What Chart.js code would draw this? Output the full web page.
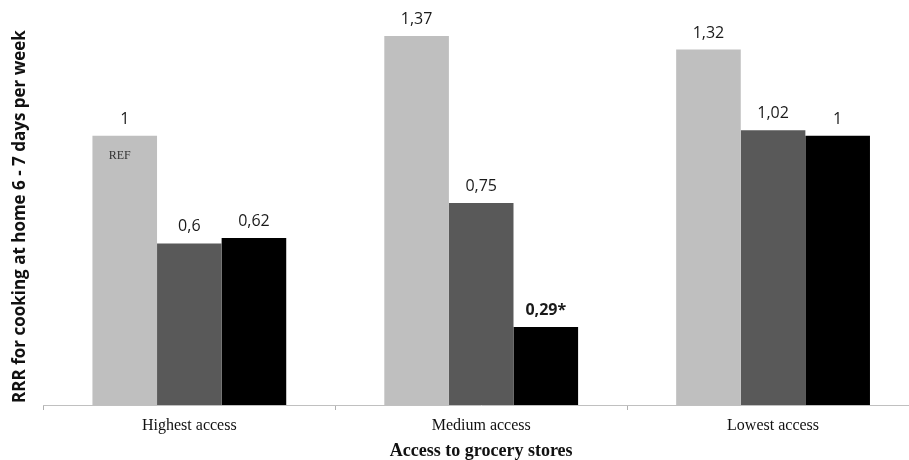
<!DOCTYPE html>
<html>
<head>
<meta charset="utf-8">
<script src="https://cdn.jsdelivr.net/npm/chart.js@4/dist/chart.umd.min.js"></script>
<style>
  html, body { margin: 0; padding: 0; background: #fff; overflow: hidden; }
  #wrap { width: 920px; height: 460px; position: relative; }
</style>
</head>
<body>
<div id="wrap"><canvas id="rrrChart"></canvas></div>
<script>
// categories and values
const categories = ['Highest access', 'Medium access', 'Lowest access'];
const seriesLight = [1, 1.37, 1.32];
const seriesDark = [0.6, 0.75, 1.02];
const seriesBlack = [0.62, 0.29, 1];
// significance markers (bold + asterisk)
const sigLight = [false, false, false];
const sigDark = [false, false, false];
const sigBlack = [false, true, false];
const refNote = 'REF';

const COLORS = ['#bfbfbf', '#595959', '#000000'];

function fmt(v) {
    return String(v).replace('.', ',');
}

// value labels above bars, REF note inside the reference bar
const barLabels = {
    id: 'barLabels',
    afterDatasetsDraw(chart) {
        const ctx = chart.ctx;
        ctx.save();
        ctx.textAlign = 'center';
        ctx.textBaseline = 'alphabetic';
        chart.data.datasets.forEach((ds, di) => {
            const meta = chart.getDatasetMeta(di);
            meta.data.forEach((bar, i) => {
                const sig = ds.sig[i];
                ctx.fillStyle = '#1a1a1a';
                ctx.font = (sig ? 'bold ' : '') + '16px "Open Sans"';
                ctx.fillText(fmt(ds.data[i]) + (sig ? '*' : ''), bar.x, bar.y - 12);
            });
        });
        const ref = chart.getDatasetMeta(0).data[0];
        ctx.font = '12px "Liberation Serif"';
        ctx.fillStyle = '#333';
        ctx.fillText(refNote, ref.x - 5, ref.y + 23);
        ctx.restore();
    }
};

const ctx = document.getElementById('rrrChart').getContext('2d');
new Chart(ctx, {
    type: 'bar',
    data: {
        labels: categories,
        datasets: [
            { label: 'Series 1', data: seriesLight, sig: sigLight, backgroundColor: COLORS[0] },
            { label: 'Series 2', data: seriesDark, sig: sigDark, backgroundColor: COLORS[1] },
            { label: 'Series 3', data: seriesBlack, sig: sigBlack, backgroundColor: COLORS[2] }
        ]
    },
    options: {
        responsive: true,
        maintainAspectRatio: false,
        animation: false,
        layout: { padding: { left: 4, top: 28, right: 1, bottom: 0 } },
        datasets: {
            bar: { barPercentage: 1, categoryPercentage: 0.664, borderWidth: 0 }
        },
        scales: {
            x: {
                grid: {
                    display: true,
                    drawOnChartArea: false,
                    drawTicks: true,
                    tickLength: 5,
                    color: '#b0b0b0'
                },
                border: { display: true, color: '#c0c0c0', width: 1 },
                ticks: {
                    padding: 8,
                    color: '#111',
                    font: { family: '"Liberation Serif"', size: 16, lineHeight: 1.0 }
                },
                title: {
                    display: true,
                    text: 'Access to grocery stores',
                    color: '#111',
                    padding: { top: 0, bottom: 0 },
                    font: { family: '"Liberation Serif"', size: 18, weight: 'bold', lineHeight: 1.0 }
                }
            },
            y: {
                min: 0,
                max: 1.4,
                grid: { display: false, drawTicks: false },
                border: { display: false },
                ticks: { display: false },
                title: {
                    display: true,
                    text: 'RRR for cooking at home 6 - 7 days per week',
                    color: '#111',
                    padding: { top: 5.5, bottom: 13.5 },
                    font: { family: '"Open Sans"', size: 17, weight: 'bold' }
                }
            }
        },
        plugins: {
            legend: { display: false },
            tooltip: { enabled: false }
        }
    },
    plugins: [barLabels]
});
</script>
</body>
</html>
